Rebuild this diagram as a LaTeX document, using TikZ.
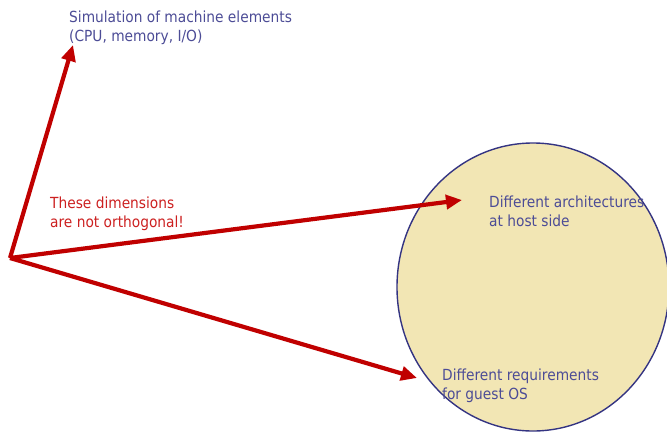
\documentclass[tikz,border=0pt]{standalone}
\usepackage{fontspec}
\setmainfont{DejaVu Sans Condensed}
\usetikzlibrary{arrows.meta}
\definecolor{pfeilrot}{RGB}{192,0,0}
\definecolor{textrot}{RGB}{204,32,32}
\definecolor{textblau}{RGB}{76,76,150}
\definecolor{randblau}{RGB}{52,52,130}
\definecolor{sandgelb}{RGB}{242,230,180}
\tikzset{
  pfeil/.style={pfeilrot,line width=4.2pt,-{Triangle[length=16pt,width=14pt]}},
  blautext/.style={textblau,anchor=north west,inner sep=0pt,align=left,font=\fontsize{15.3}{19}\selectfont},
  rottext/.style={textrot,anchor=north west,inner sep=0pt,align=left,font=\fontsize{15.3}{19}\selectfont}
}
\begin{document}
\begin{tikzpicture}[x=1pt,y=-1pt]
\useasboundingbox (0,0) rectangle (667,432);
% Bereich
\draw[randblau,fill=sandgelb,line width=1.4pt](533,287) ellipse (136 and 144);
% Texte
\node[blautext]at(69,11)(maschine){Simulation of machine elements\\(CPU, memory, I/O)};
\node[rottext]at(50,197)(hinweis){These dimensions\\are not orthogonal!};
\node[blautext]at(489,196)(architektur){Different architectures\\at host side};
\node[blautext]at(442,369)(gastos){Different requirements\\for guest OS};
% Punkte
\coordinate(ursprung)at(10,258);
\coordinate(spitze_maschine)at(73,45);
\coordinate(spitze_architektur)at(462,200);
\coordinate(spitze_gastos)at(417,378);
% Pfeile
\draw[pfeil](ursprung) -- (spitze_maschine);
\draw[pfeil](ursprung) -- (spitze_architektur);
\draw[pfeil](ursprung) -- (spitze_gastos);
\end{tikzpicture}
\end{document}
